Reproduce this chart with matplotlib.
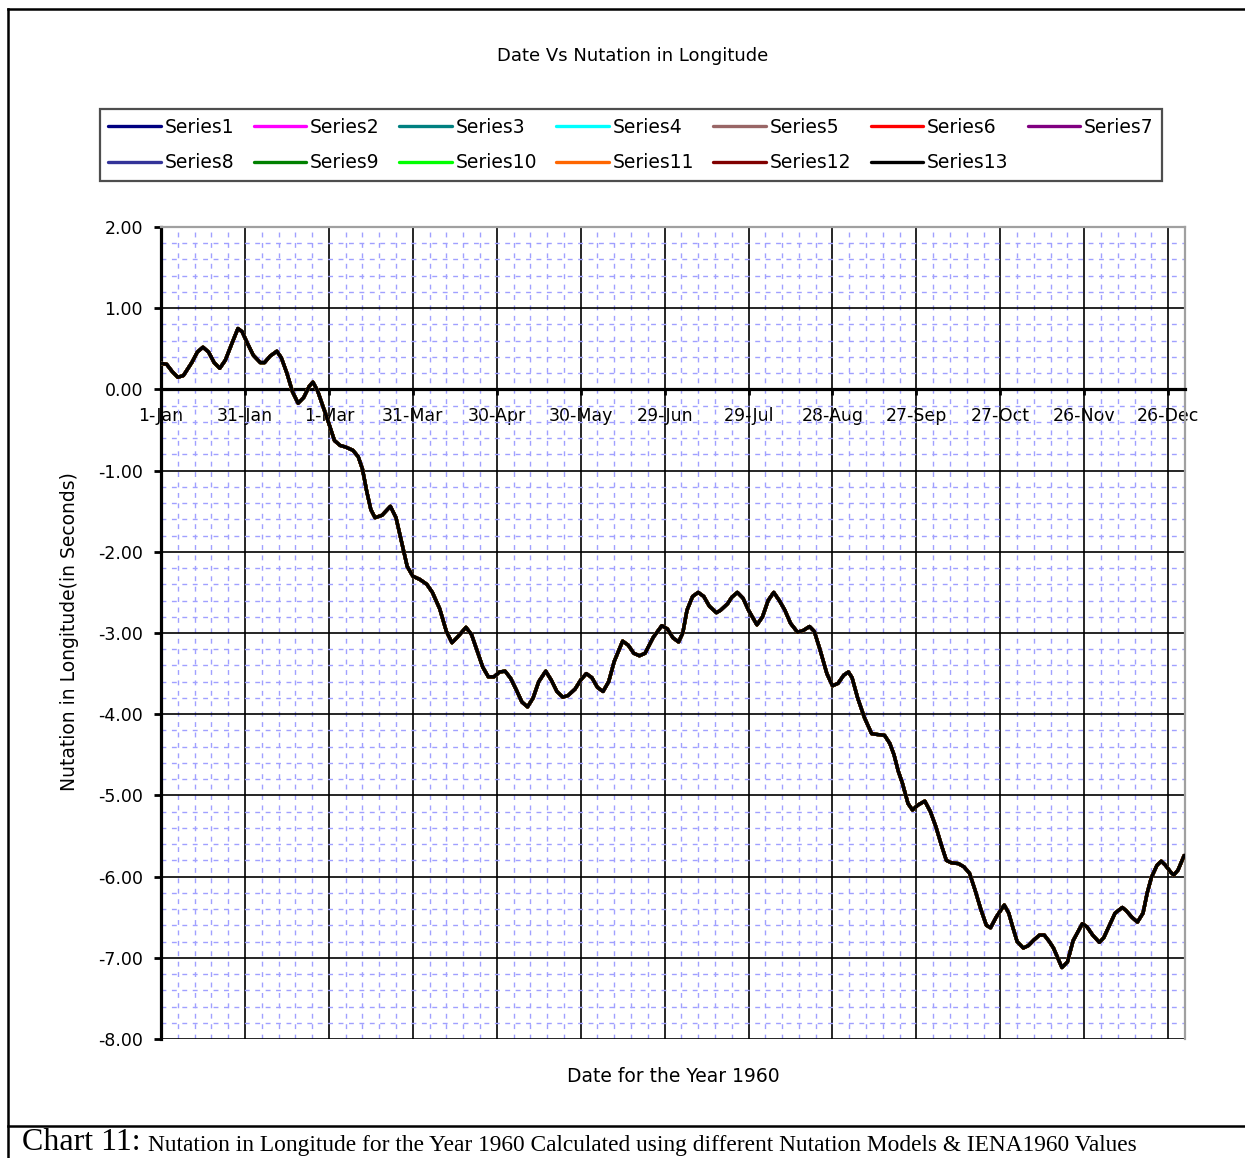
import matplotlib
matplotlib.use("Agg")
import matplotlib.pyplot as plt
from matplotlib.ticker import FixedLocator, MultipleLocator
from matplotlib.lines import Line2D

# ---------------- data ----------------
days = [0, 2, 4, 6, 8, 11, 13, 15, 17, 19, 21, 23, 25.5, 27.5, 29, 31, 33,
        35.5, 37, 39, 41.4, 43, 45, 47, 49, 51, 53, 54.3, 56, 58, 60, 62, 64,
        66, 68.6, 70.5, 72, 73.5, 75, 76.5, 79, 82, 84, 86, 88, 90, 92.5, 95,
        97, 99.6, 102, 104, 106, 109, 111, 113, 115, 117, 119, 121, 123, 125,
        127, 129, 131, 133, 135, 137.5, 139.5, 141.5, 143.6, 145.5, 148, 150,
        152, 154, 156, 158, 160, 162, 165, 167, 169, 171, 173, 176, 179, 181,
        183, 185, 186.5, 188, 190, 192, 194, 196, 198.5, 200, 202.5, 204, 206,
        208, 210, 213, 215, 217, 219, 221, 223, 225, 227.5, 229.5, 231.8,
        233.5, 235.5, 238, 240, 242, 244, 245.7, 247, 249, 251.4, 254, 256,
        258.6, 260.5, 262, 263.5, 265, 267, 268.6, 270.5, 273, 275, 277, 279,
        280.7, 282.5, 285, 287, 289, 291, 293, 295, 296.5, 298.5, 301.4, 303,
        304.5, 306, 308.2, 310, 312, 314, 315.7, 317.5, 319, 320.5, 322, 324,
        326, 329.3, 331, 333, 335.4, 337, 339, 341, 343.6, 345, 347, 349, 351,
        352.5, 354, 356, 357.5, 359, 361, 362, 363.5, 365.7]

nutation = [0.32, 0.31, 0.22, 0.15, 0.17, 0.33, 0.46, 0.52, 0.46, 0.33, 0.26,
            0.36, 0.58, 0.75, 0.71, 0.56, 0.42, 0.33, 0.33, 0.41, 0.47, 0.39,
            0.20, -0.03, -0.17, -0.10, 0.04, 0.09, -0.02, -0.22, -0.42, -0.63,
            -0.69, -0.71, -0.75, -0.83, -0.98, -1.25, -1.48, -1.58, -1.55,
            -1.44, -1.58, -1.88, -2.18, -2.30, -2.34, -2.40, -2.50, -2.70,
            -2.98, -3.12, -3.05, -2.93, -3.02, -3.22, -3.42, -3.54, -3.54,
            -3.48, -3.47, -3.56, -3.70, -3.85, -3.91, -3.80, -3.60, -3.47,
            -3.58, -3.72, -3.79, -3.77, -3.69, -3.58, -3.50, -3.55, -3.67,
            -3.72, -3.60, -3.35, -3.10, -3.15, -3.25, -3.28, -3.25, -3.05,
            -2.91, -2.95, -3.06, -3.11, -3.00, -2.72, -2.55, -2.50, -2.55,
            -2.67, -2.75, -2.72, -2.64, -2.56, -2.50, -2.57, -2.72, -2.90,
            -2.80, -2.60, -2.50, -2.60, -2.72, -2.88, -2.99, -2.97, -2.92,
            -2.98, -3.20, -3.50, -3.65, -3.62, -3.52, -3.48, -3.55, -3.80,
            -4.04, -4.24, -4.25, -4.26, -4.36, -4.50, -4.70, -4.85, -5.10,
            -5.18, -5.12, -5.07, -5.20, -5.39, -5.62, -5.80, -5.83, -5.84,
            -5.88, -5.96, -6.17, -6.40, -6.60, -6.63, -6.50, -6.35, -6.45,
            -6.63, -6.80, -6.88, -6.85, -6.78, -6.72, -6.72, -6.80, -6.88,
            -7.00, -7.12, -7.05, -6.79, -6.58, -6.62, -6.72, -6.81, -6.75,
            -6.60, -6.45, -6.38, -6.42, -6.50, -6.56, -6.45, -6.20, -6.01,
            -5.86, -5.81, -5.86, -5.95, -5.98, -5.92, -5.74]

series_names = ["Series1", "Series2", "Series3", "Series4", "Series5",
                "Series6", "Series7", "Series8", "Series9", "Series10",
                "Series11", "Series12", "Series13"]
series_colors = ["#000080", "#ff00ff", "#008080", "#00ffff", "#996666",
                 "#ff0000", "#800080", "#333399", "#008000", "#00ff00",
                 "#ff6600", "#800000", "#000000"]

tick_days = [0, 30, 60, 90, 120, 150, 180, 210, 240, 270, 300, 330, 360]
tick_labels = ["1-Jan", "31-Jan", "1-Mar", "31-Mar", "30-Apr", "30-May",
               "29-Jun", "29-Jul", "28-Aug", "27-Sep", "27-Oct", "26-Nov",
               "26-Dec"]
y_ticks = [2, 1, 0, -1, -2, -3, -4, -5, -6, -7, -8]

title = "Date Vs Nutation in Longitude"
xlabel = "Date for the Year 1960"
ylabel = "Nutation in Longitude(in Seconds)"
caption_head = "Chart 11:"
caption_body = ("Nutation in Longitude for the Year 1960 Calculated using "
                "different Nutation Models & IENA1960 Values")

# ---------------- figure ----------------
W, H = 1245, 1158
plt.rcParams["font.family"] = ["DejaVu Sans"]
fig = plt.figure(figsize=(W / 100, H / 100), dpi=100)
ax = fig.add_axes([161 / W, 1 - 1039 / H, 1024 / W, 812 / H])

handles = []
for name, col in zip(series_names, series_colors):
    (ln,) = ax.plot(days, nutation, color=col, lw=2.4, label=name,
                    solid_joinstyle="round", solid_capstyle="round", zorder=3)
    handles.append(ln)

ax.set_xlim(0, 366)
ax.set_ylim(-8, 2)
ax.xaxis.set_major_locator(FixedLocator(tick_days))
ax.set_xticklabels(tick_labels)
ax.yaxis.set_major_locator(FixedLocator(y_ticks))
ax.set_yticklabels([f"{v:.2f}" for v in y_ticks])
ax.xaxis.set_minor_locator(MultipleLocator(6))
ax.yaxis.set_minor_locator(MultipleLocator(0.2))

ax.set_axisbelow(True)
ax.grid(which="minor", color="#a0a0ff", linestyle=(0, (3.5, 4)), lw=1.0)
ax.grid(which="major", color="black", lw=1.2)

ax.spines["bottom"].set_position(("data", 0))
ax.spines["bottom"].set_linewidth(2.3)
ax.spines["left"].set_linewidth(2.3)
for s in ("top", "right"):
    ax.spines[s].set_color("#a0a0a0")
    ax.spines[s].set_linewidth(1.6)

ax.tick_params(axis="both", which="minor", length=0)
ax.tick_params(axis="x", which="major", direction="out", length=4, width=2,
               pad=8.5, labelsize=12.5)
ax.tick_params(axis="y", which="major", direction="out", length=5, width=2,
               pad=8, labelsize=12.5)

ax.set_title(title, fontsize=13, x=(633 - 161) / 1024,
             y=(1039 - 56) / 812, pad=0, va="center")
ax.set_xlabel(xlabel, fontsize=13.5, va="center")
ax.xaxis.set_label_coords(0.5, (1039 - 1077) / 812)
ax.set_ylabel(ylabel, fontsize=13.5, va="center")
ax.yaxis.set_label_coords((70 - 161) / 1024, (1039 - 632) / 812)

# legend entries laid out row by row (Series1..7 on top, 8..13 below)
ncol = 7
order = []
for c in range(ncol):
    order.append(c)
    if c + ncol < len(handles):
        order.append(c + ncol)
leg_handles = [handles[i] for i in order]

leg = fig.legend(handles=leg_handles, loc="center", ncol=ncol, mode="expand",
                 bbox_to_anchor=(100 / W, 1 - 184 / H, 1062 / W, 78 / H),
                 fontsize=13.5, handlelength=2.8, handletextpad=0.2,
                 borderpad=0.45, labelspacing=0.9, columnspacing=0.4,
                 frameon=True, fancybox=False, borderaxespad=0)
leg.get_frame().set_edgecolor("#222222")
leg.get_frame().set_linewidth(1.6)
for lh in leg.get_lines():
    lh.set_linewidth(2.4)

# outer chart border and caption separator
fig.add_artist(Line2D([8 / W, 1], [1 - 9 / H] * 2, transform=fig.transFigure,
                      color="black", lw=1.8))
fig.add_artist(Line2D([8 / W] * 2, [1 - 9 / H, 0], transform=fig.transFigure,
                      color="black", lw=1.8))
fig.add_artist(Line2D([8 / W, 1], [1 - 1126 / H] * 2,
                      transform=fig.transFigure, color="black", lw=1.8))

fig.text(22 / W, 1 - 1150 / H, caption_head, family="Liberation Serif",
         fontsize=23, va="baseline", ha="left")
fig.text(148 / W, 1 - 1151 / H, caption_body, family="Liberation Serif",
         fontsize=16.8, va="baseline", ha="left")

fig.savefig("out.png", dpi=100)
